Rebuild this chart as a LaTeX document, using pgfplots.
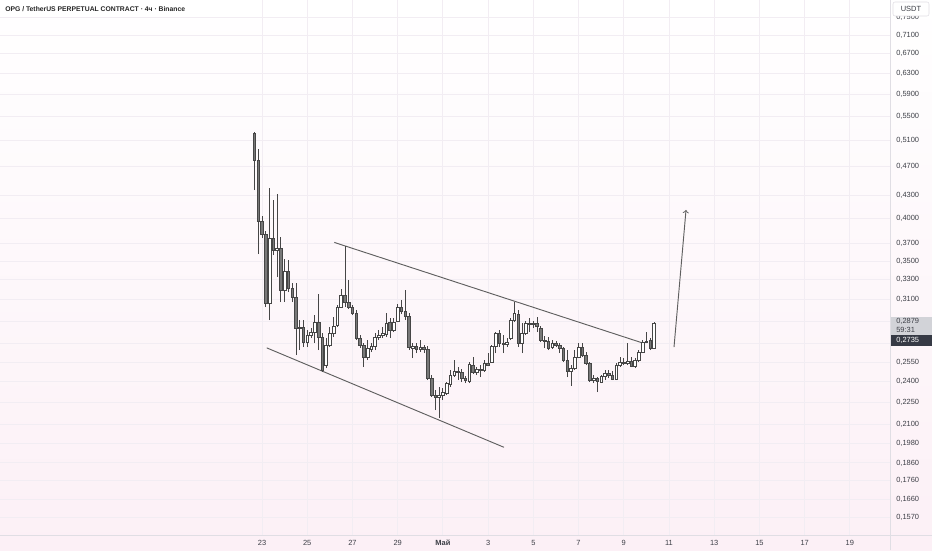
\documentclass[border=0pt]{standalone}
\usepackage{pgfplots}
\usepackage{pgfplotstable}
\pgfplotsset{compat=1.18}
\usepackage{fontspec}
\setmainfont{Liberation Sans}

\definecolor{bgbot}{RGB}{252,240,246}
\definecolor{gridc}{RGB}{242,237,243}
\definecolor{sepc}{RGB}{224,222,228}
\definecolor{txt}{RGB}{60,62,70}
\definecolor{wickc}{RGB}{70,70,70}
\definecolor{downc}{RGB}{120,120,120}
\definecolor{linec}{RGB}{95,95,95}
\definecolor{lastbox}{RGB}{210,211,216}
\definecolor{darkbox}{RGB}{54,58,69}

% 4h candles, x = day (May 1 = 31)
\pgfplotstableread{
x o h l c
22.667 0.5224 0.5240 0.4370 0.4801
22.833 0.4801 0.4969 0.3576 0.3966
23.000 0.3966 0.4028 0.3759 0.3807
23.167 0.3807 0.3843 0.3029 0.3067
23.333 0.3067 0.4398 0.2908 0.3759
23.500 0.3759 0.4235 0.3565 0.3621
23.667 0.3621 0.4315 0.3328 0.3644
23.833 0.3644 0.3771 0.3077 0.3195
24.000 0.3195 0.3521 0.3077 0.3390
24.167 0.3390 0.3510 0.3175 0.3215
24.333 0.3215 0.3265 0.3077 0.3125
24.500 0.3125 0.3265 0.2606 0.2836
24.667 0.2836 0.2908 0.2648 0.2845
24.833 0.2845 0.2908 0.2672 0.2715
25.000 0.2715 0.2819 0.2672 0.2775
25.167 0.2775 0.2837 0.2749 0.2801
25.333 0.2801 0.2954 0.2706 0.2890
25.500 0.2890 0.3155 0.2648 0.2758
25.667 0.2758 0.2792 0.2472 0.2487
25.833 0.2526 0.2749 0.2502 0.2689
26.000 0.2689 0.2845 0.2672 0.2792
26.167 0.2792 0.2936 0.2758 0.2854
26.333 0.2863 0.3048 0.2845 0.3029
26.500 0.3029 0.3205 0.3020 0.3145
26.667 0.3145 0.3667 0.3029 0.3077
26.833 0.3077 0.3297 0.3010 0.3029
27.000 0.3029 0.3048 0.2954 0.2973
27.167 0.2973 0.3001 0.2732 0.2749
27.333 0.2749 0.2775 0.2664 0.2689
27.500 0.2689 0.2706 0.2510 0.2590
27.667 0.2590 0.2732 0.2566 0.2664
27.833 0.2656 0.2706 0.2631 0.2681
28.000 0.2681 0.2792 0.2648 0.2758
28.167 0.2758 0.2819 0.2732 0.2775
28.333 0.2775 0.2845 0.2749 0.2792
28.500 0.2784 0.2973 0.2758 0.2881
28.667 0.2890 0.2926 0.2749 0.2819
28.833 0.2819 0.2926 0.2801 0.2890
29.000 0.2899 0.3057 0.2890 0.3029
29.167 0.3029 0.3096 0.2963 0.2992
29.333 0.2992 0.3195 0.2908 0.2945
29.500 0.2945 0.2973 0.2648 0.2672
29.667 0.2664 0.2706 0.2582 0.2681
29.833 0.2681 0.2706 0.2623 0.2656
30.000 0.2656 0.2732 0.2631 0.2672
30.167 0.2672 0.2689 0.2623 0.2656
30.333 0.2656 0.2681 0.2410 0.2425
30.500 0.2425 0.2448 0.2285 0.2299
30.667 0.2299 0.2336 0.2194 0.2285
30.833 0.2285 0.2358 0.2140 0.2299
31.000 0.2299 0.2351 0.2264 0.2321
31.167 0.2314 0.2395 0.2299 0.2388
31.333 0.2380 0.2487 0.2358 0.2448
31.500 0.2448 0.2566 0.2433 0.2479
31.667 0.2479 0.2510 0.2410 0.2472
31.833 0.2472 0.2495 0.2395 0.2425
32.000 0.2425 0.2440 0.2388 0.2410
32.167 0.2402 0.2550 0.2388 0.2534
32.333 0.2526 0.2590 0.2456 0.2472
32.500 0.2472 0.2510 0.2448 0.2495
32.667 0.2495 0.2526 0.2433 0.2487
32.833 0.2487 0.2566 0.2472 0.2542
33.000 0.2542 0.2623 0.2518 0.2526
33.167 0.2550 0.2689 0.2542 0.2681
33.333 0.2681 0.2801 0.2623 0.2792
33.500 0.2792 0.2819 0.2672 0.2706
33.667 0.2706 0.2775 0.2623 0.2697
33.833 0.2697 0.2749 0.2672 0.2715
34.000 0.2749 0.2926 0.2732 0.2908
34.167 0.2908 0.3077 0.2890 0.2973
34.333 0.2963 0.3001 0.2672 0.2706
34.500 0.2706 0.2881 0.2623 0.2792
34.667 0.2792 0.2899 0.2775 0.2881
34.833 0.2881 0.2926 0.2801 0.2872
35.000 0.2872 0.2899 0.2837 0.2881
35.167 0.2881 0.2936 0.2801 0.2854
35.333 0.2837 0.2854 0.2715 0.2732
35.500 0.2732 0.2766 0.2664 0.2724
35.667 0.2724 0.2758 0.2648 0.2664
35.833 0.2672 0.2732 0.2656 0.2706
36.000 0.2706 0.2724 0.2672 0.2689
36.167 0.2689 0.2706 0.2623 0.2664
36.333 0.2664 0.2672 0.2550 0.2566
36.500 0.2566 0.2648 0.2433 0.2479
36.667 0.2479 0.2526 0.2366 0.2502
36.833 0.2502 0.2648 0.2487 0.2590
37.000 0.2590 0.2706 0.2582 0.2672
37.167 0.2672 0.2706 0.2590 0.2606
37.333 0.2606 0.2631 0.2526 0.2542
37.500 0.2542 0.2550 0.2395 0.2410
37.667 0.2410 0.2448 0.2388 0.2425
37.833 0.2425 0.2433 0.2321 0.2402
38.000 0.2395 0.2448 0.2388 0.2440
38.167 0.2440 0.2487 0.2410 0.2464
38.333 0.2464 0.2487 0.2425 0.2448
38.500 0.2448 0.2479 0.2410 0.2418
38.667 0.2418 0.2542 0.2410 0.2526
38.833 0.2526 0.2590 0.2510 0.2550
39.000 0.2550 0.2582 0.2526 0.2542
39.167 0.2542 0.2706 0.2526 0.2558
39.333 0.2558 0.2590 0.2510 0.2518
39.500 0.2518 0.2582 0.2502 0.2566
39.667 0.2566 0.2648 0.2550 0.2631
39.833 0.2631 0.2732 0.2623 0.2715
40.000 0.2715 0.2801 0.2706 0.2724
40.167 0.2732 0.2749 0.2648 0.2664
40.333 0.2664 0.2890 0.2656 0.2879
}\ohlc

\pgfplotstablegetrowsof{\ohlc}
\pgfmathtruncatemacro{\lastrow}{\pgfplotsretval-1}

\tikzset{
  wick/.style={draw=wickc, line width=0.6pt, mark=none},
  downbar/.style={draw=wickc, fill=downc, line width=0.5pt, mark=none},
  upbar/.style={draw=wickc, fill=white, line width=0.5pt, mark=none},
  trend/.style={draw=linec, line width=0.7pt, mark=none},
}
\newcommand{\tvfont}{\fontsize{5.6}{6.7}\selectfont}

\begin{document}
\begin{tikzpicture}
\useasboundingbox (0,-11.25pt) rectangle (699pt,401.25pt);
\shade[top color=white, bottom color=bgbot] (0,-11.25pt) rectangle (699pt,401.25pt);

\begin{axis}[
    at={(0,0)}, anchor=south west,
    scale only axis, width=667.5pt, height=401.25pt,
    xmin=11.412, xmax=50.775,
    ymode=log, ymin=0.1484, ymax=0.7922,
    axis line style={draw=none},
    major tick length=0pt,
    xtick={23,25,...,49},
    xticklabels={23,25,27,29,\textbf{Май},3,5,7,9,11,13,15,17,19},
    xticklabel style={anchor=base, yshift=-8pt, font=\tvfont, text=txt},
    ytick={0.157,0.166,0.176,0.186,0.198,0.21,0.225,0.24,0.255,0.27,0.29,0.31,0.33,0.35,0.37,0.40,0.43,0.47,0.51,0.55,0.59,0.63,0.67,0.71,0.75},
    yticklabels={{0,1570},{0,1660},{0,1760},{0,1860},{0,1980},{0,2100},{0,2250},{0,2400},{0,2550},{},{},{0,3100},{0,3300},{0,3500},{0,3700},{0,4000},{0,4300},{0,4700},{0,5100},{0,5500},{0,5900},{0,6300},{0,6700},{0,7100},{0,7500}},
    yticklabel pos=right,
    yticklabel style={anchor=west, inner sep=0pt, xshift=4.5pt, font=\tvfont, text=txt},
    xmajorgrids, ymajorgrids,
    grid style={draw=gridc, line width=0.6pt},
]
% channel lines and target arrow
\addplot[trend] coordinates {(26.198,0.3709) (39.851,0.2706)};
\addplot[trend] coordinates {(23.208,0.2666) (33.703,0.1953)};
\addplot[trend, ->] coordinates {(41.222,0.2672) (41.753,0.4105)};

\pgfplotsforeachungrouped \i in {0,...,\lastrow}{%
  \pgfplotstablegetelem{\i}{x}\of\ohlc \let\cx\pgfplotsretval
  \pgfplotstablegetelem{\i}{o}\of\ohlc \let\co\pgfplotsretval
  \pgfplotstablegetelem{\i}{h}\of\ohlc \let\ch\pgfplotsretval
  \pgfplotstablegetelem{\i}{l}\of\ohlc \let\cl\pgfplotsretval
  \pgfplotstablegetelem{\i}{c}\of\ohlc \let\cc\pgfplotsretval
  \pgfmathsetmacro\xa{\cx-0.058}%
  \pgfmathsetmacro\xb{\cx+0.058}%
  \ifdim\cc pt<\co pt \def\cstyle{downbar}\else\def\cstyle{upbar}\fi
  \edef\doplot{%
    \noexpand\addplot[wick] coordinates {(\cx,\cl) (\cx,\ch)};
    \noexpand\addplot[\cstyle] coordinates {(\xa,\co) (\xb,\co) (\xb,\cc) (\xa,\cc)} -- cycle;
  }\doplot
}
\end{axis}

% panel separators
\draw[sepc, line width=0.6pt] (667.5pt,-11.25pt) -- (667.5pt,401.25pt);
\draw[sepc, line width=0.6pt] (0,0) -- (699pt,0);

% title
\node[anchor=west, inner sep=0pt, text=black!85] at (3.75pt,394.5pt)
  {\fontsize{5.1}{6}\selectfont\bfseries OPG / TetherUS PERPETUAL CONTRACT · 4ч · Binance};

% currency box
\node[draw=sepc, fill=white, rounded corners=1.5pt, minimum width=27pt, minimum height=10.5pt, inner sep=0pt, text=txt]
  at (683.25pt,394.5pt) {\tvfont USDT};

% last price boxes
\fill[lastbox] (668.25pt,150pt) rectangle (699pt,163.8pt);
\node[anchor=west, inner sep=0pt, text=txt] at (672pt,160.2pt) {\tvfont 0,2879};
\node[anchor=west, inner sep=0pt, text=txt] at (672pt,153.6pt) {\tvfont 59:31};
\fill[darkbox] (668.25pt,141.5pt) rectangle (699pt,150pt);
\node[anchor=west, inner sep=0pt, text=white] at (672pt,145.8pt) {\tvfont 0,2735};
\end{tikzpicture}
\end{document}
